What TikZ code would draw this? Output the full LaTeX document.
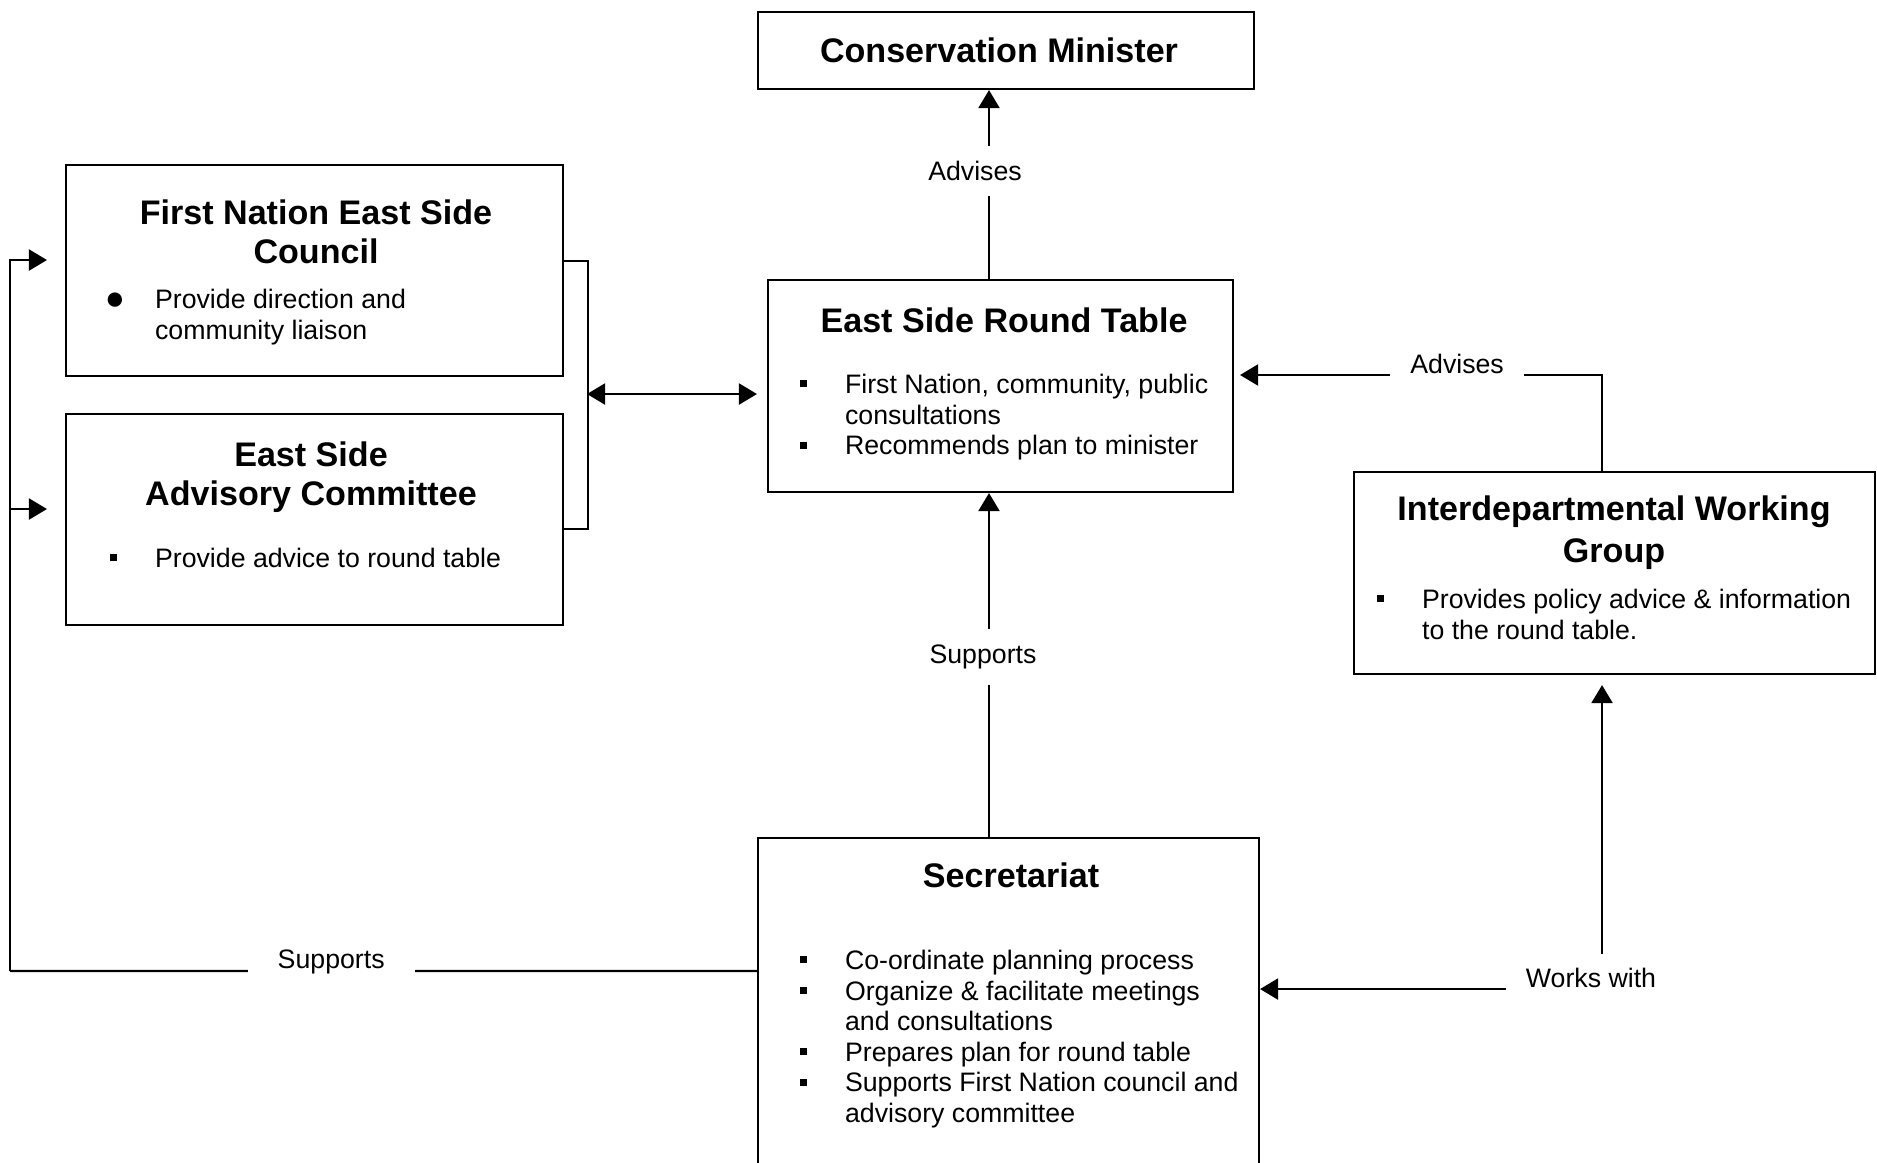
\documentclass[tikz,border=0pt]{standalone}
\usepackage{fontspec}
\setmainfont{Liberation Sans}
\usetikzlibrary{arrows.meta}

\newcommand{\sqbul}{\raisebox{0.06cm}{\rule{0.07cm}{0.07cm}}}
\newcommand{\dotbul}{\raisebox{-0.01cm}{\fontsize{9.5}{9.5}\selectfont\symbol{"25CF}}}
\newcommand{\itm}[2][0.38cm]{\llap{#2\hspace{#1}}}

\begin{document}
\begin{tikzpicture}[>={Triangle[length=1.8mm,width=2.1mm]}, line width=0.6pt,
  box/.style={draw, inner sep=0pt},
  ttl/.style={font=\fontsize{9.7}{11.1}\selectfont\bfseries, align=center, inner sep=0pt},
  lst/.style={font=\fontsize{7.6}{8.7}\selectfont, align=left, anchor=north west, inner sep=0pt},
  lbl/.style={font=\fontsize{7.6}{8.7}\selectfont, fill=white, inner xsep=2mm, inner ysep=0.5mm}]
\useasboundingbox (0,0) rectangle (18.77,-11.62);

\node[box, ttl, minimum width=4.96cm, minimum height=0.77cm] (cmin) at (10.06,-0.505) {Conservation Minister\hspace{0.14cm}};

\node[box, minimum width=4.65cm, minimum height=2.12cm] (rt) at (10.005,-3.86) {};
\node[ttl] (rt-t) at (10.04,-3.20) {East Side Round Table};
\node[lst] (rt-l) at (8.44,-3.73) {\itm{\sqbul}First Nation, community, public\\consultations\\\itm{\sqbul}Recommends plan to minister};

\node[box, minimum width=4.97cm, minimum height=2.11cm] (fnc) at (3.145,-2.705) {};
\node[ttl] (fnc-t) at (3.16,-2.315) {First Nation East Side\\Council};
\node[lst] (fnc-l) at (1.54,-2.88) {\itm[0.3cm]{\dotbul}Provide direction and\\community liaison};

\node[box, minimum width=4.97cm, minimum height=2.11cm] (esac) at (3.145,-5.195) {};
\node[ttl] (esac-t) at (3.11,-4.77) {East Side\\Advisory Committee};
\node[lst] (esac-l) at (1.54,-5.47) {\itm{\sqbul}Provide advice to round table};

\node[box, minimum width=5.21cm, minimum height=2.02cm] (iwg) at (16.1475,-5.73) {};
\node[ttl, font=\fontsize{9.7}{11.9}\selectfont\bfseries] (iwg-t) at (16.14,-5.33) {Interdepartmental Working\\Group};
\node[lst] (iwg-l) at (14.21,-5.88) {\itm{\sqbul}Provides policy advice \& information\\to the round table.};

\node[box, minimum width=5.01cm, minimum height=3.62cm] (sec) at (10.085,-10.19) {};
\node[ttl] (sec-t) at (10.11,-8.75) {Secretariat};
\node[lst] (sec-l) at (8.44,-9.49) {\itm{\sqbul}Co-ordinate planning process\\\itm{\sqbul}Organize \& facilitate meetings\\and consultations\\\itm{\sqbul}Prepares plan for round table\\\itm{\sqbul}Supports First Nation council and\\advisory committee};

% connectors
\draw[->] ([xshift=-1.15mm]rt.north) -- node[lbl, pos=0.57, xshift=-1.4mm, inner ysep=1.5mm]{Advises} ([xshift=-1.15mm]rt.north |- cmin.south);
\draw[->] ([xshift=-1.3mm]iwg.north) |- node[lbl, pos=0.7, yshift=1.1mm]{Advises} ([xshift=0.6mm,yshift=1.1mm]rt.east);
\draw[->] ([xshift=-1.95mm]sec.north) -- node[lbl, pos=0.523, xshift=-0.6mm, inner ysep=1.6mm]{Supports} ([xshift=-1.95mm]sec.north |- rt.south);

\draw ([yshift=0.95mm]fnc.east) -- ++(0.24,0) |- ([yshift=-0.95mm]esac.east);
\coordinate (brk) at (5.87,-3.94);
\draw[<->, shorten >=1mm] (brk) -- (rt.west |- brk);

\coordinate (lft) at (0.10,-9.71);
\draw ([yshift=4.8mm]sec.west) -- node[lbl, pos=0.57, yshift=0.9mm, inner xsep=3mm]{Supports} (lft);
\draw[->] (lft) |- ([yshift=1.05mm,xshift=-1.8mm]fnc.west);
\draw[->] ([yshift=1.05mm]esac.west -| lft) -- ([yshift=1.05mm,xshift=-1.8mm]esac.west);

\coordinate (wc) at (16.02,-9.89);
\draw[->] (wc) -- (sec.east |- wc);
\draw[->] (wc) -- ([yshift=-1mm]iwg.south -| wc);
\node[lbl, inner ysep=1.4mm] (works) at (15.91,-9.78) {Works with};
\end{tikzpicture}
\end{document}
